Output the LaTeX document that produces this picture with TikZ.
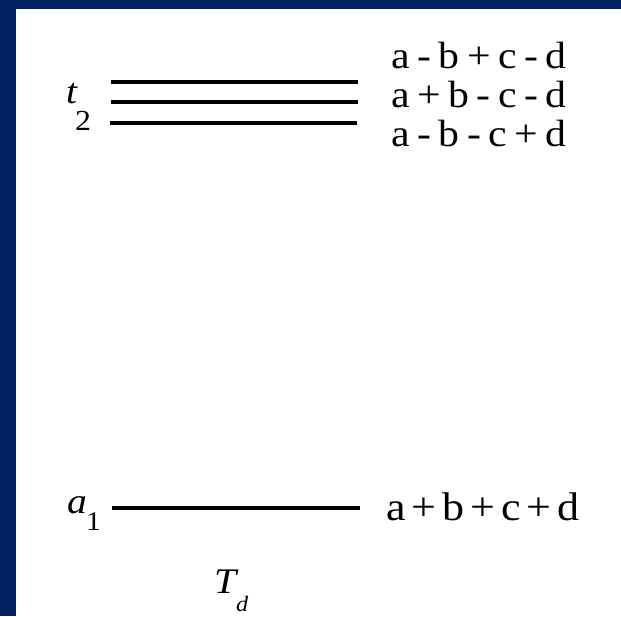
\documentclass[tikz,border=0pt]{standalone}
\usepackage{fontspec}
\setmainfont[FakeStretch=1.1]{Liberation Serif}
\definecolor{navy}{RGB}{0,32,96}
\newcommand\levsub[3]{\raisebox{#1}{\fontsize{#2}{#2}\selectfont #3}}
\newcommand\combofont{\fontsize{38}{42}\selectfont\spaceskip=7.5pt\relax}
\newcommand\sumfont{\fontsize{40}{44}\selectfont\spaceskip=6pt\relax}

\begin{document}
\begin{tikzpicture}[
  x=1pt,y=-1pt,
  level/.style={line width=4pt},
  combo/.style={anchor=base west,inner sep=0pt,font=\combofont},
  sym/.style={anchor=base west,inner sep=0pt,font=\fontsize{36}{40}\selectfont\itshape}
]
  % frame
  \fill[navy] (0,0) rectangle (621,616);
  \fill[white] (16,9) rectangle (621,616);
  \useasboundingbox (0,0) rectangle (621,616);

  % t2 levels
  \node[sym] (t2) at (66,103) {t\hspace{-2pt}\levsub{-27pt}{29}{\upshape 2}};
  \coordinate (t2a) at (111,82);  \coordinate (t2b) at (358,82);
  \coordinate (t2c) at (111,102); \coordinate (t2d) at (358,102);
  \coordinate (t2e) at (110,123); \coordinate (t2f) at (357,123);
  \draw[level] (t2a) -- (t2b);
  \draw[level] (t2c) -- (t2d);
  \draw[level] (t2e) -- (t2f);
  \node[combo] (c1) at (391,68) {a - b + c - d};
  \node[combo] (c2) at (391,107) {a + b - c - d};
  \node[combo] (c3) at (391,146) {a - b - c + d};

  % a1 level
  \node[sym] (a1) at (67,513) {a\hspace{-1pt}\levsub{-17pt}{27}{\upshape 1}};
  \coordinate (a1a) at (112,508); \coordinate (a1b) at (360,508);
  \draw[level] (a1a) -- (a1b);
  \node[combo,font=\sumfont] (c0) at (386,520) {a + b + c + d};

  % point group
  \node[sym] (Td) at (214,593) {T\levsub{-18pt}{22}{d}};
\end{tikzpicture}
\end{document}
